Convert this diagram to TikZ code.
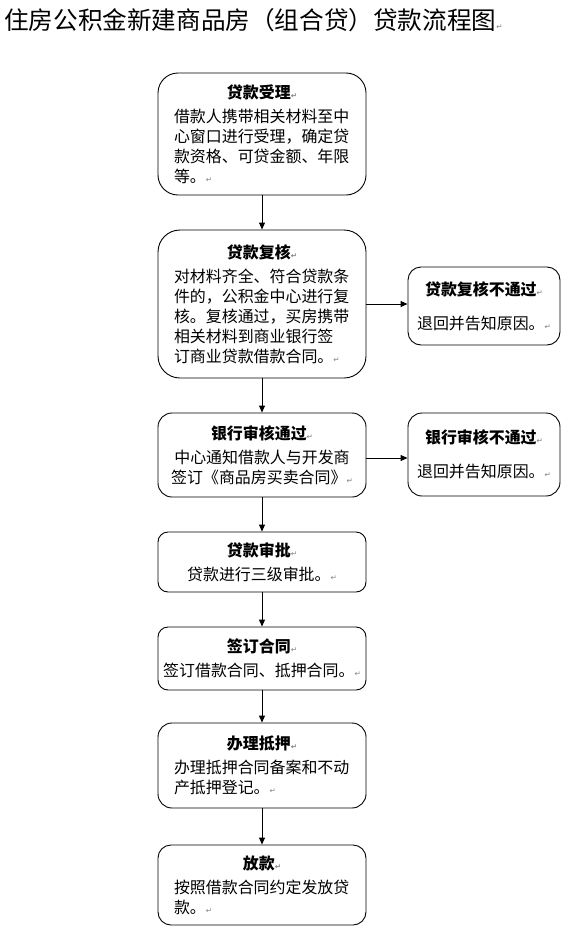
\documentclass[tikz,border=0pt]{standalone}
\usepackage{fontspec}
\setmainfont{Noto Sans CJK SC}
\newfontfamily\markfont{DejaVu Sans}
\usetikzlibrary{arrows.meta}
\newcommand{\rmk}{{\markfont\fontsize{7.5}{7.5}\selectfont\textcolor{gray}{↵}}}
\newcommand{\hd}[1]{\makebox[176bp]{\bfseries #1\rmk}}
\tikzset{
  flowbox/.style={draw, line width=0.9bp, rounded corners=#1, inner sep=0pt,
    align=left, font=\fontsize{16}{20}\selectfont},
  mainbox/.style={flowbox=#1, minimum width=208bp},
  sidebox/.style={flowbox=#1, minimum width=152bp, align=center},
  conn/.style={line width=0.9bp, -{Triangle[length=7bp,width=6bp]}},
}
\begin{document}
\begin{tikzpicture}[x=1bp,y=-1bp]
\useasboundingbox (0,0) rectangle (578,931);
\node[anchor=west, inner sep=0pt, font=\fontsize{24.7}{24.7}\selectfont] (title) at (4,20) {住房公积金新建商品房（组合贷）贷款流程图\rmk};

\node[mainbox=20bp, minimum height=122bp] (b1) at (262,134) {\hd{贷款受理}\\[4bp]
借款人携带相关材料至中\\心窗口进行受理，确定贷\\款资格、可贷金额、年限\\等。\rmk};
\node[mainbox=22bp, minimum height=148bp] (b2) at (262,304) {\hd{贷款复核}\\[4bp]
对材料齐全、符合贷款条\\件的，公积金中心进行复\\核。复核通过，买房携带\\相关材料到商业银行签\\订商业贷款借款合同。\rmk};
\node[mainbox=14bp, minimum height=84bp, align=center] (b3) at (262,455) {\textbf{银行审核通过}\rmk\\[4bp]
中心通知借款人与开发商\\签订《商品房买卖合同》\rmk};
\node[mainbox=10bp, minimum height=60bp, align=center] (b4) at (262,562) {\textbf{贷款审批}\rmk\\[4bp]
贷款进行三级审批。\rmk};
\node[mainbox=10bp, minimum height=63bp, align=center] (b5) at (262,658.5) {\textbf{签订合同}\rmk\\[4bp]
签订借款合同、抵押合同。\rmk};
\node[mainbox=14bp, minimum height=85bp] (b6) at (262,765.5) {\hd{办理抵押}\\[4bp]
办理抵押合同备案和不动\\产抵押登记。\rmk};
\node[mainbox=13bp, minimum height=80bp] (b7) at (262,885) {\hd{放款}\\[4bp]
按照借款合同约定发放贷\\款。\rmk};

\node[sidebox=13bp, minimum height=78bp] (s1) at (484,306) {\textbf{贷款复核不通过}\rmk\\[14bp]退回并告知原因。\rmk};
\node[sidebox=14bp, minimum height=83bp] (s2) at (484,454.5) {\textbf{银行审核不通过}\rmk\\[14bp]退回并告知原因。\rmk};

\draw[conn] (b1) -- (b2);
\draw[conn] (b2) -- (b3);
\draw[conn] (b3) -- (b4);
\draw[conn] (b4) -- (b5);
\draw[conn] (b5) -- (b6);
\draw[conn] (b6) -- (b7);
\draw[conn] (b2.east) -- (b2.east -| s1.west);
\draw[conn] ([yshift=-3bp]b3.east) -- ([yshift=-3bp]b3.east -| s2.west);
\end{tikzpicture}
\end{document}
